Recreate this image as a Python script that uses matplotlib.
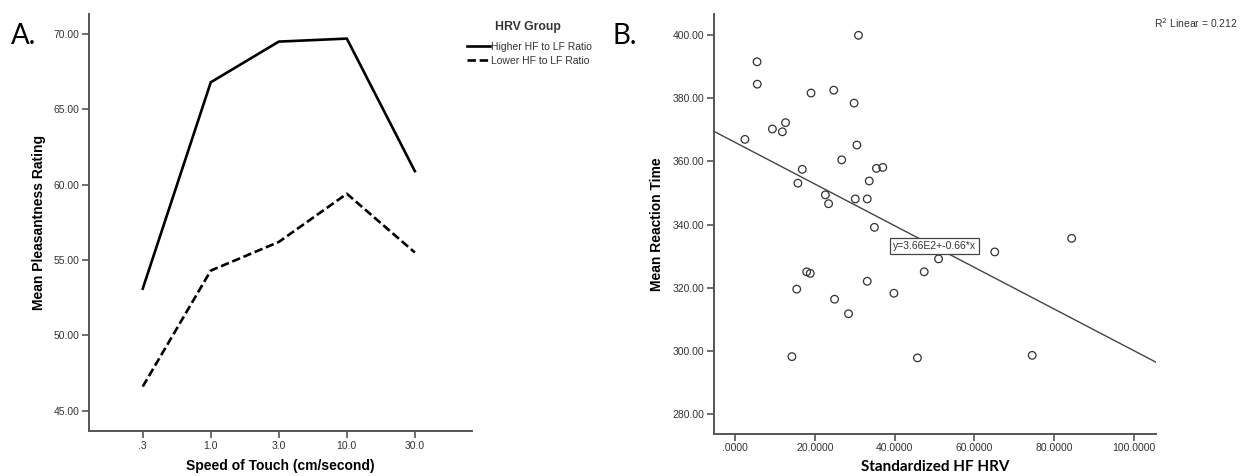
import numpy as np
import matplotlib
matplotlib.use("Agg")
import matplotlib.pyplot as plt
from matplotlib.lines import Line2D

plt.rcParams["font.family"] = ["Liberation Sans", "DejaVu Sans"]

# Panel A: mean pleasantness by touch speed and HRV group
speeds = [".3", "1.0", "3.0", "10.0", "30.0"]
higher_ratio = [53.1, 66.8, 69.5, 69.7, 60.9]
lower_ratio = [46.6, 54.3, 56.2, 59.4, 55.5]
group_labels = ["Higher HF to LF Ratio", "Lower HF to LF Ratio"]

# Panel B: standardized HF HRV vs mean reaction time
hf_hrv = [5.45, 5.5, 30.9, 19.0, 24.7, 29.8, 2.4, 9.3, 11.8, 12.6,
          30.5, 26.7, 16.8, 15.7, 35.4, 37.0, 33.6, 22.6, 23.4, 30.1,
          33.1, 34.9, 17.9, 18.8, 15.4, 33.1, 24.9, 39.8, 28.4, 14.2,
          45.7, 47.4, 51.0, 65.1, 74.5, 84.4]
reaction_time = [391.6, 384.5, 400.0, 381.7, 382.6, 378.5, 367.0, 370.3, 369.4, 372.3,
                 365.2, 360.5, 357.5, 353.1, 357.8, 358.1, 353.8, 349.4, 346.6, 348.1,
                 348.1, 339.1, 325.0, 324.5, 319.5, 322.0, 316.3, 318.2, 311.7, 298.1,
                 297.7, 325.0, 329.1, 331.3, 298.5, 335.6]
fit_intercept = 366.0
fit_slope = -0.66
r_squared = 0.212

fig = plt.figure(figsize=(12.5, 4.76), dpi=100)
axA = fig.add_axes([0.0712, 0.0945, 0.3064, 0.876])
axB = fig.add_axes([0.571, 0.0889, 0.3541, 0.8817])

spine_col = "#555555"
tick_col = "#333333"
dash = (0, (3.2, 1.4))

for ax in (axA, axB):
    for s in ("top", "right"):
        ax.spines[s].set_visible(False)
    for s in ("left", "bottom"):
        ax.spines[s].set_color(spine_col)
        ax.spines[s].set_linewidth(1.4)
    ax.tick_params(axis="both", direction="out", length=5, width=1.2,
                   color=spine_col, labelsize=7.5, labelcolor=tick_col, pad=2)

# --- panel A ---
x = np.arange(len(speeds))
axA.plot(x, higher_ratio, color="black", lw=1.9, solid_joinstyle="miter")
axA.plot(x, lower_ratio, color="black", lw=1.9, linestyle=dash)
axA.set_xticks(x)
axA.set_xticklabels(speeds)
axA.set_xlim(-0.79, 4.84)
axA.set_ylim(43.65, 71.33)
axA.set_yticks([45, 50, 55, 60, 65, 70])
axA.set_yticklabels([f"{v:.2f}" for v in [45, 50, 55, 60, 65, 70]])
axA.set_xlabel("Speed of Touch (cm/second)", fontsize=10, fontweight="bold", labelpad=6)
axA.set_ylabel("Mean Pleasantness Rating", fontsize=10, fontweight="bold", labelpad=5)

# legend (title drawn separately so it can sit a bit higher)
handles = [Line2D([], [], color="black", lw=1.9),
           Line2D([], [], color="black", lw=1.9, linestyle=dash)]
leg = fig.legend(handles, group_labels, loc="upper left",
                 bbox_to_anchor=(0.3736, 0.912), frameon=False, fontsize=7.5,
                 handlelength=2.2, handletextpad=0.1, labelspacing=0.38,
                 borderaxespad=0, borderpad=0)
for t in leg.get_texts():
    t.set_color(tick_col)
fig.text(528 / 1250, 1 - 26.7 / 476, "HRV Group", fontsize=8.8, fontweight="bold",
         color=tick_col, ha="center", va="center")

fig.text(0.009, 0.925, "A.", fontsize=20, family=["Lato", "DejaVu Sans"], va="center")

# --- panel B ---
axB.scatter(hf_hrv, reaction_time, s=30, facecolors="none", edgecolors="#333333",
            linewidths=0.9, zorder=3)
xlim = (-5.42, 105.66)
xs = np.array(xlim)
axB.plot(xs, fit_intercept + fit_slope * xs, color="#444444", lw=1.0)
axB.set_xlim(*xlim)
axB.set_ylim(273.66, 406.76)
axB.set_xticks([0, 20, 40, 60, 80, 100])
axB.set_xticklabels([".0000", "20.0000", "40.0000", "60.0000", "80.0000", "100.0000"])
axB.set_yticks([280, 300, 320, 340, 360, 380, 400])
axB.set_yticklabels([f"{v:.2f}" for v in [280, 300, 320, 340, 360, 380, 400]])
axB.set_xlabel("Standardized HF HRV", fontsize=11, fontweight="bold",
               family=["Lato", "DejaVu Sans"], labelpad=5)
axB.set_ylabel("Mean Reaction Time", fontsize=10, fontweight="bold", labelpad=6)

axB.text(50.0, 333.2, f"y=3.66E2+{fit_slope}*x", fontsize=7.5, color=tick_col,
         ha="center", va="center", zorder=4,
         bbox=dict(boxstyle="square,pad=0.25", fc="white", ec="#444444", lw=0.9))
fig.text(0.9904, 0.952, f"R$^2$ Linear = {r_squared}", fontsize=7.5, color=tick_col,
         ha="right", va="center")
fig.text(0.49, 0.925, "B.", fontsize=20, family=["Lato", "DejaVu Sans"], va="center")

fig.savefig("out.png", dpi=100)
